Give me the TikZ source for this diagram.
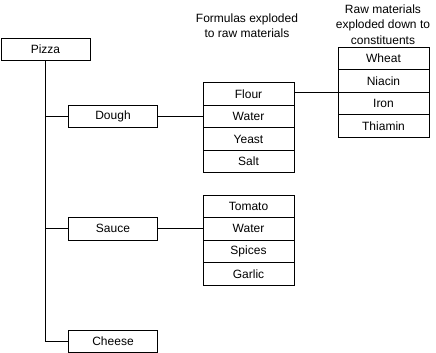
\documentclass[tikz,border=0pt]{standalone}
\usepackage{fontspec}
\setmainfont{Liberation Sans}
\usepackage{tikz}
\usetikzlibrary{positioning}

\tikzset{
  box/.style={draw, line width=0.8pt, minimum width=89pt, minimum height=22.5pt, inner sep=0pt,
    font=\fontsize{12}{13}\selectfont},
  rowbox/.style={box, minimum width=91pt},
  caption/.style={align=center, font=\fontsize{12}{15.5}\selectfont},
  link/.style={line width=0.8pt}
}

\begin{document}
\begin{tikzpicture}[x=1pt,y=1pt]
  \useasboundingbox (0,0) rectangle (436,353);

  % product tree
  \node[box] (pizza)  at (45.5,303.5)  {Pizza};
  \node[box] (dough)  at (113,236.5)   {Dough};
  \node[box] (sauce)  at (113,124.25)  {Sauce};
  \node[box] (cheese) at (113,11.5)    {Cheese};

  % formulas
  \node[rowbox] (flour)      at (248.5,259)    {Flour};
  \node[rowbox] (doughwater) at (248.5,236.5)  {Water};
  \node[rowbox] (yeast)      at (248.5,214)    {Yeast};
  \node[rowbox] (salt)       at (248.5,191.5)  {Salt};

  \node[rowbox] (tomato)     at (248.5,146.75) {Tomato};
  \node[rowbox] (saucewater) at (248.5,124.25) {Water};
  \node[rowbox] (spices)     at (248.5,101.75) {Spices};
  \node[rowbox] (garlic)     at (248.5,79.25)  {Garlic};

  % constituents
  \node[rowbox] (wheat)   at (383.5,294.75) {Wheat};
  \node[rowbox] (niacin)  at (383.5,272.25) {Niacin};
  \node[rowbox] (iron)    at (383.5,249.75) {Iron};
  \node[rowbox] (thiamin) at (383.5,227.25) {Thiamin};

  % captions
  \node[caption] (formcap) at (247,327.5) {Formulas exploded\\to raw materials};
  \node[caption] (rawcap)  at (383,328.5) {Raw materials\\exploded down to\\constituents};

  % connectors
  \draw[link] (pizza.south) |- (cheese.west);
  \draw[link] (pizza.south |- dough.west) -- (dough.west);
  \draw[link] (pizza.south |- sauce.west) -- (sauce.west);
  \draw[link] (dough.east) -- (doughwater.west);
  \draw[link] (sauce.east) -- (saucewater.west);
  \draw[link] (flour.east |- niacin.south west) -- (niacin.south west);
\end{tikzpicture}
\end{document}
